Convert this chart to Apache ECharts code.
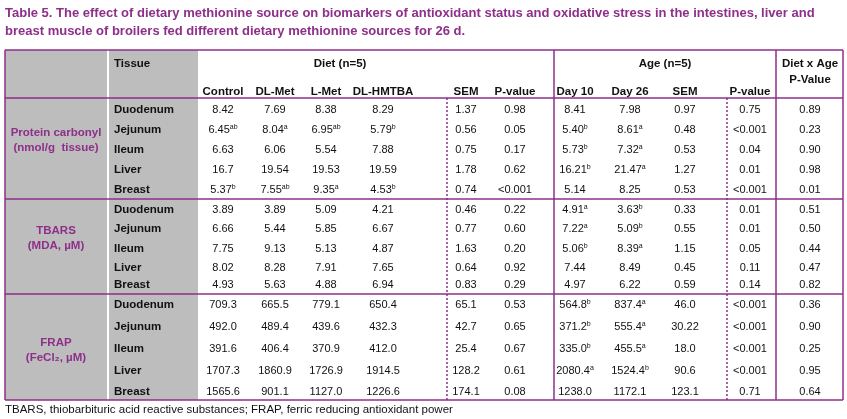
<!DOCTYPE html>
<html><head><meta charset="utf-8">
<script src="https://cdn.jsdelivr.net/npm/echarts@6/dist/echarts.min.js"></script>
<style>html,body{margin:0;padding:0;background:#fff}#c{width:847px;height:419px}</style>
</head><body><div id="c"></div>
<script>
const titleLines = ["Table 5. The effect of dietary methionine source on biomarkers of antioxidant status and oxidative stress in the intestines, liver and",
  "breast muscle of broilers fed different dietary methionine sources for 26 d."];
const footnote = "TBARS, thiobarbituric acid reactive substances; FRAP, ferric reducing antioxidant power";
const groups = [["Protein carbonyl","(nmol/g  tissue)"],["TBARS","(MDA, µM)"],["FRAP","(FeCl₂, µM)"]];
const tissues = ["Duodenum","Jejunum","Ileum","Liver","Breast"];
const columns = ["Control","DL-Met","L-Met","DL-HMTBA","SEM","P-value","Day 10","Day 26","SEM","P-value",""];
const proteinCarbonyl = [
 ["8.42","7.69","8.38","8.29","1.37","0.98","8.41","7.98","0.97","0.75","0.89"],
 ["6.45^ab","8.04^a","6.95^ab","5.79^b","0.56","0.05","5.40^b","8.61^a","0.48","<0.001","0.23"],
 ["6.63","6.06","5.54","7.88","0.75","0.17","5.73^b","7.32^a","0.53","0.04","0.90"],
 ["16.7","19.54","19.53","19.59","1.78","0.62","16.21^b","21.47^a","1.27","0.01","0.98"],
 ["5.37^b","7.55^ab","9.35^a","4.53^b","0.74","<0.001","5.14","8.25","0.53","<0.001","0.01"]];
const tbars = [
 ["3.89","3.89","5.09","4.21","0.46","0.22","4.91^a","3.63^b","0.33","0.01","0.51"],
 ["6.66","5.44","5.85","6.67","0.77","0.60","7.22^a","5.09^b","0.55","0.01","0.50"],
 ["7.75","9.13","5.13","4.87","1.63","0.20","5.06^b","8.39^a","1.15","0.05","0.44"],
 ["8.02","8.28","7.91","7.65","0.64","0.92","7.44","8.49","0.45","0.11","0.47"],
 ["4.93","5.63","4.88","6.94","0.83","0.29","4.97","6.22","0.59","0.14","0.82"]];
const frap = [
 ["709.3","665.5","779.1","650.4","65.1","0.53","564.8^b","837.4^a","46.0","<0.001","0.36"],
 ["492.0","489.4","439.6","432.3","42.7","0.65","371.2^b","555.4^a","30.22","<0.001","0.90"],
 ["391.6","406.4","370.9","412.0","25.4","0.67","335.0^b","455.5^a","18.0","<0.001","0.25"],
 ["1707.3","1860.9","1726.9","1914.5","128.2","0.61","2080.4^a","1524.4^b","90.6","<0.001","0.95"],
 ["1565.6","901.1","1127.0","1226.6","174.1","0.08","1238.0","1172.1","123.1","0.71","0.64"]];
const blocks = [proteinCarbonyl, tbars, frap];

// layout
const colX = [223,275,326,383,466,515,575,630,685,750,810];
const rowY = [[110,130,150,170,190],[210,229,249,268,285],[305,327,349,371,392]];
const groupY = [140,238,350];
const hLines = [199,294];
const PURPLE = '#8e2f8a', FONT = 'Arial,"Liberation Sans",sans-serif';

const texts = [];
blocks.forEach((b,bi)=>{
  groups[bi].forEach((g,k)=>texts.push([56, groupY[bi]-7+k*15, g, 'group']));
  b.forEach((row,ri)=>{
    texts.push([114,rowY[bi][ri],tissues[ri],'tissue']);
    row.forEach((v,ci)=>texts.push([colX[ci],rowY[bi][ri],v,'cell']));
  });
});
columns.forEach((c,ci)=>{ if(c) texts.push([colX[ci],92,c,'head']); });
texts.push([114,64,'Tissue','tissueHead']);
texts.push([340,64,'Diet (n=5)','head']);
texts.push([665,64,'Age (n=5)','head']);
texts.push([810,64,'Diet x Age','headB']);
texts.push([810,80,'P-Value','headB']);

function richText(s){
  const p = s.split('^');
  return p.length>1 ? p[0]+'{sup|'+p[1]+'}' : s;
}
const chart = echarts.init(document.getElementById('c'),null,{renderer:'canvas'});
chart.setOption({
  animation:false,
  grid:{left:0,right:0,top:0,bottom:0},
  xAxis:{type:'value',min:0,max:847,show:false},
  yAxis:{type:'value',min:0,max:419,inverse:true,show:false},
  series:[
  {type:'custom',data:[[0,0]],z:1,renderItem:(params,api)=>{
     const P=(x,y)=>api.coord([x,y]);
     const els=[];
     const a=P(5,50),b=P(198,400);
     els.push({type:'rect',shape:{x:a[0],y:a[1],width:b[0]-a[0],height:b[1]-a[1]},style:{fill:'#bdbdbd'}});
     const w1=P(108,50),w2=P(108,400);
     els.push({type:'line',shape:{x1:w1[0],y1:w1[1],x2:w2[0],y2:w2[1]},style:{stroke:'#fff',lineWidth:2}});
     const line=(x1,y1,x2,y2,dash,lw)=>{const p=P(x1,y1),q=P(x2,y2);
       els.push({type:'line',shape:{x1:p[0],y1:p[1],x2:q[0],y2:q[1]},style:{stroke:PURPLE,lineWidth:lw||1.5,lineDash:dash?[2,2]:null}});};
     line(5,50,843,50); line(5,98,843,98); line(5,400,843,400);
     hLines.forEach(y=>line(5,y,843,y));
     line(5,50,5,400); line(843,50,843,400);
     line(554,50,554,400); line(776,50,776,400);
     line(447,98,447,400,true); line(727,98,727,400,true);
     return {type:'group',children:els};
  }},
  {type:'custom',data:texts,z:2,renderItem:(params,api)=>{
     const d=texts[params.dataIndex];
     const p=api.coord([d[0],d[1]]);
     const k=d[3];
     const left=(k==='tissue'||k==='tissueHead');
     const bold=(k!=='cell');
     return {type:'text',x:p[0],y:p[1],style:{
       text:k==='cell'?richText(d[2]):d[2],
       fill:k==='group'?PURPLE:'#111',
       font:(bold?'bold ':'')+(k==='cell'?'11px ':'11.5px ')+FONT,
       align:left?'left':'center',verticalAlign:'middle',
       rich:{sup:{fontSize:7,verticalAlign:'top',padding:[0,0,6,0],fill:'#111',fontFamily:FONT}}
     }};
  }},
  {type:'custom',data:[[0,0]],z:3,renderItem:(params,api)=>{
     const els=titleLines.map((t,i)=>{const p=api.coord([5,13+i*18]);
       return {type:'text',x:p[0],y:p[1],style:{text:t,fill:PURPLE,font:'bold 13px '+FONT,verticalAlign:'middle'}};});
     const f=api.coord([5,410]);
     els.push({type:'text',x:f[0],y:f[1],style:{text:footnote,fill:'#111',font:'11.5px '+FONT,verticalAlign:'middle'}});
     return {type:'group',children:els};
  }}
  ]
});
</script></body></html>
